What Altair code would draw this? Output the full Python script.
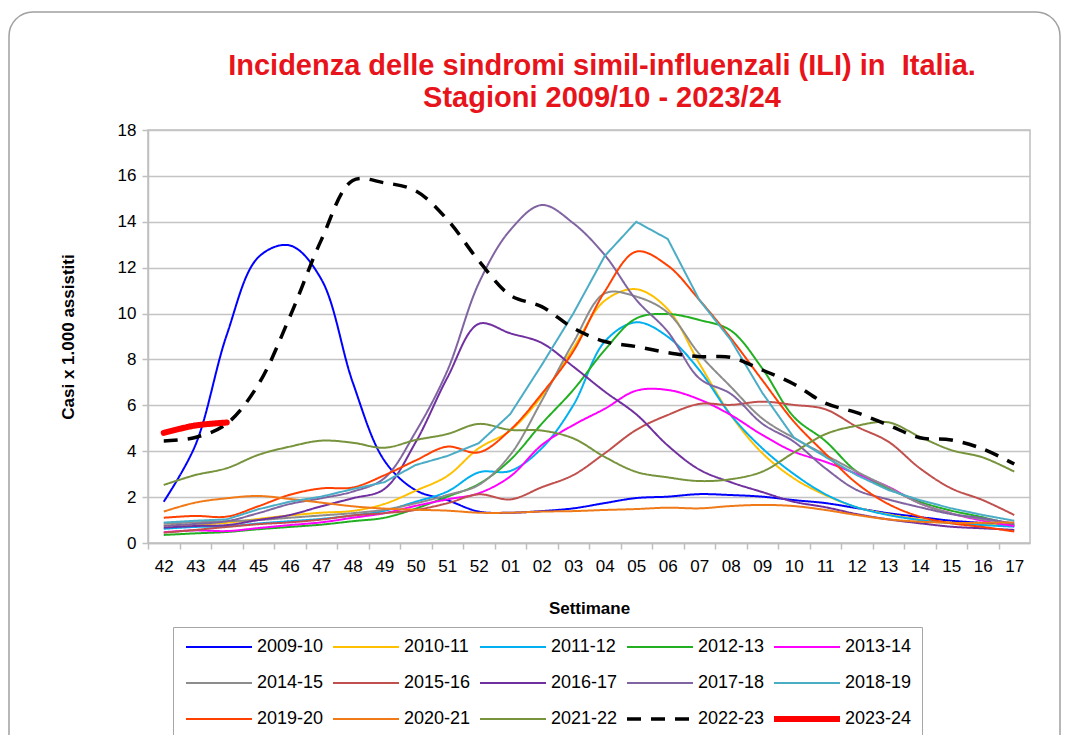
import altair as alt
import pandas as pd

weeks = ["42", "43", "44", "45", "46", "47", "48", "49", "50", "51", "52",
         "01", "02", "03", "04", "05", "06", "07", "08", "09", "10", "11",
         "12", "13", "14", "15", "16", "17"]

seasons = ["2009-10", "2010-11", "2011-12", "2012-13", "2013-14",
           "2014-15", "2015-16", "2016-17", "2017-18", "2018-19",
           "2019-20", "2020-21", "2021-22", "2022-23", "2023-24"]

s2009_10 = [1.8, 4.25, 9.07, 12.45, 12.97, 11.5, 7.0, 3.6, 2.3, 1.87, 1.37, 1.32, 1.39, 1.51,
            1.74, 1.96, 2.02, 2.13, 2.09, 2.02, 1.87, 1.74, 1.52, 1.3, 1.13, 0.97, 0.87, 0.74]
s2010_11 = [0.76, 0.8, 0.88, 1.05, 1.2, 1.32, 1.4, 1.7, 2.28, 2.92, 4.13, 4.9, 6.4, 8.49,
            10.56, 11.06, 10.19, 7.83, 5.58, 3.92, 2.82, 2.09, 1.56, 1.25, 1.03, 0.88, 0.81, 0.74]
s2011_12 = [0.62, 0.7, 0.72, 0.85, 0.95, 1.05, 1.2, 1.4, 1.8, 2.24, 3.08, 3.14, 4.13, 6.0,
            8.78, 9.62, 8.99, 7.54, 5.58, 4.13, 3.01, 2.13, 1.56, 1.22, 1.0, 0.86, 0.78, 0.71]
s2012_13 = [0.35, 0.42, 0.48, 0.6, 0.7, 0.8, 0.95, 1.1, 1.5, 2.02, 2.57, 3.62, 5.2, 6.67,
            8.41, 9.79, 9.98, 9.72, 9.26, 7.61, 5.5, 4.45, 3.11, 2.38, 1.8, 1.41, 1.12, 0.78]
s2013_14 = [0.47, 0.55, 0.52, 0.65, 0.78, 0.9, 1.1, 1.3, 1.62, 1.9, 2.17, 2.9, 4.27, 5.14,
            5.85, 6.64, 6.67, 6.26, 5.58, 4.71, 3.98, 3.54, 3.01, 2.45, 1.73, 1.29, 0.97, 0.74]
s2014_15 = [0.85, 0.9, 0.95, 1.0, 1.1, 1.2, 1.3, 1.45, 1.73, 2.09, 2.53, 3.84, 6.2, 8.73,
            10.88, 10.74, 10.04, 8.24, 6.81, 5.43, 4.58, 3.84, 3.11, 2.43, 1.73, 1.29, 1.03, 0.86]
s2015_16 = [0.45, 0.57, 0.7, 0.82, 0.9, 1.02, 1.2, 1.3, 1.44, 1.73, 2.12, 1.9, 2.43, 2.96,
            3.91, 4.93, 5.58, 6.06, 6.02, 6.16, 6.02, 5.83, 5.07, 4.42, 3.26, 2.38, 1.87, 1.22]
s2016_17 = [0.67, 0.74, 0.78, 1.0, 1.22, 1.6, 1.95, 2.35, 4.4, 7.2, 9.55, 9.14, 8.72, 7.69,
            6.6, 5.61, 4.25, 3.2, 2.65, 2.22, 1.8, 1.56, 1.26, 1.03, 0.86, 0.71, 0.64, 0.57]
s2017_18 = [0.75, 0.83, 0.95, 1.3, 1.7, 1.95, 2.24, 2.82, 4.85, 7.5, 11.32, 13.64, 14.73, 13.94,
            12.55, 10.6, 9.21, 7.18, 6.5, 5.2, 4.42, 3.26, 2.31, 1.9, 1.56, 1.26, 1.08, 0.83]
s2018_19 = [0.89, 0.97, 1.03, 1.47, 1.8, 2.02, 2.35, 2.65, 3.4, 3.79, 4.35, 5.62, 7.76, 10.0,
            12.51, 14.0, 13.25, 10.6, 8.85, 6.55, 4.6, 3.76, 2.96, 2.31, 1.87, 1.51, 1.22, 0.97]
s2019_20 = [1.1, 1.18, 1.15, 1.6, 2.1, 2.38, 2.42, 2.95, 3.6, 4.2, 3.95, 4.93, 6.5, 8.35,
            10.96, 12.7, 12.09, 10.6, 8.93, 7.1, 5.3, 3.9, 2.6, 1.7, 1.15, 0.86, 0.7, 0.5]
s2020_21 = [1.37, 1.76, 1.95, 2.05, 1.92, 1.76, 1.6, 1.5, 1.45, 1.41, 1.32, 1.32, 1.37, 1.39,
            1.44, 1.48, 1.54, 1.51, 1.61, 1.66, 1.61, 1.44, 1.22, 1.03, 0.93, 0.88, 0.88, 0.9]
s2021_22 = [2.53, 2.96, 3.26, 3.84, 4.2, 4.46, 4.37, 4.15, 4.49, 4.75, 5.19, 4.93, 4.9, 4.56,
            3.75, 3.1, 2.86, 2.7, 2.78, 3.11, 3.94, 4.74, 5.11, 5.26, 4.63, 4.05, 3.73, 3.11]
s2022_23 = [4.45, 4.6, 5.2, 6.9, 9.85, 13.2, 15.8, 15.7, 15.35, 14.1, 12.3, 10.8, 10.3, 9.37,
            8.78, 8.56, 8.3, 8.12, 8.09, 7.54, 6.93, 6.1, 5.68, 5.14, 4.59, 4.49, 4.1, 3.44]
s2023_24 = [4.8, 5.12, 5.25]

series = [s2009_10, s2010_11, s2011_12, s2012_13, s2013_14, s2014_15, s2015_16,
          s2016_17, s2017_18, s2018_19, s2019_20, s2020_21, s2021_22, s2022_23, s2023_24]

colors = ["#0000FF", "#FFC000", "#00B0F0", "#22B022", "#FF00FF",
          "#8C8C8C", "#C0504D", "#7030A0", "#8064A2", "#4BACC6",
          "#FF4000", "#F07A18", "#77933C", "#000000", "#FF0000"]
widths = [2, 2, 2, 2, 2, 2, 2, 2, 2, 2, 2, 2, 2, 3.5, 6]
dashes = [[1, 0]] * 13 + [[14, 10], [1, 0]]

y_ticks = [0, 2, 4, 6, 8, 10, 12, 14, 16, 18]

rows = []
for name, vals in zip(seasons, series):
    for wk, v in zip(weeks, vals):
        rows.append({"season": name, "week": wk, "value": v})
df = pd.DataFrame(rows)

FONT = "Liberation Sans"
leg = alt.Legend(title=None, orient="none", legendX=25, legendY=497, columns=5,
                 direction="horizontal",
                 symbolType="stroke", symbolSize=4356, clipHeight=20,
                 labelFontSize=18, labelFont=FONT,
                 labelColor="black", columnPadding=6, rowPadding=16, padding=10,
                 strokeColor="#A6A6A6", fillColor="white", labelOffset=2)

base = alt.Chart(df).encode(
    x=alt.X("week:N", sort=weeks,
            scale=alt.Scale(type="point", domain=weeks, padding=0.5),
            axis=alt.Axis(title="Settimane", labelAngle=0, tickOffset=-15.75,
                          labelOffset=15.75, labelPadding=9, titlePadding=26,
                          grid=False)),
    y=alt.Y("value:Q", scale=alt.Scale(domain=[0, 18], nice=False),
            axis=alt.Axis(values=y_ticks, title="Casi x 1.000 assistiti",
                          titlePadding=40, labelPadding=6, grid=True)),
    color=alt.Color("season:N", scale=alt.Scale(domain=seasons, range=colors), legend=leg),
    strokeDash=alt.StrokeDash("season:N", scale=alt.Scale(type="ordinal", domain=seasons, range=dashes), legend=leg),
    strokeWidth=alt.StrokeWidth("season:N", scale=alt.Scale(type="ordinal", domain=seasons, range=widths), legend=leg),
)

smooth = base.transform_filter(
    "datum.season != '2018-19' && datum.season != '2022-23' && datum.season != '2023-24'"
).mark_line(interpolate="catmull-rom")
linear = base.transform_filter("datum.season == '2018-19'").mark_line(interpolate="linear")
dashed = base.transform_filter("datum.season == '2022-23'").mark_line(interpolate="catmull-rom")
current = base.transform_filter("datum.season == '2023-24'").mark_line(interpolate="catmull-rom", strokeCap="round")

frame = alt.Chart(pd.DataFrame({"f": [0]})).mark_rect(
    cornerRadius=24, fill="white", fillOpacity=0, stroke="#A0A0A0", strokeWidth=1.5
).encode(x=alt.value(-139), x2=alt.value(912), y=alt.value(-118), y2=alt.value(660))

chart = alt.layer(frame, smooth, linear, dashed, current).properties(
    width=882, height=413,
    background="white",
    autosize=alt.AutoSizeParams(type="none"),
    padding={"left": 140, "top": 122, "right": 31, "bottom": 192},
    title=alt.Title(
        text=["Incidenza delle sindromi simil-influenzali (ILI) in \u00a0Italia.",
              "Stagioni 2009/10 - 2023/24"],
        color="#E8141B", font=FONT, fontSize=29, fontWeight="bold",
        anchor="middle", frame="group", dx=13, dy=114, lineHeight=32, offset=12),
).configure_view(
    stroke="#BFBFBF", strokeWidth=1.5
).configure_axis(
    labelFont=FONT, labelFontSize=17, labelColor="black",
    titleFont=FONT, titleFontSize=17, titleFontWeight="bold", titleColor="black",
    domainColor="#BFBFBF", domainWidth=1.5, tickColor="#BFBFBF", tickWidth=1.5,
    tickSize=6, gridColor="#C4C4C4", gridWidth=1.5
)

chart.save("out.html", embed_options={"renderer": "svg", "actions": False})
